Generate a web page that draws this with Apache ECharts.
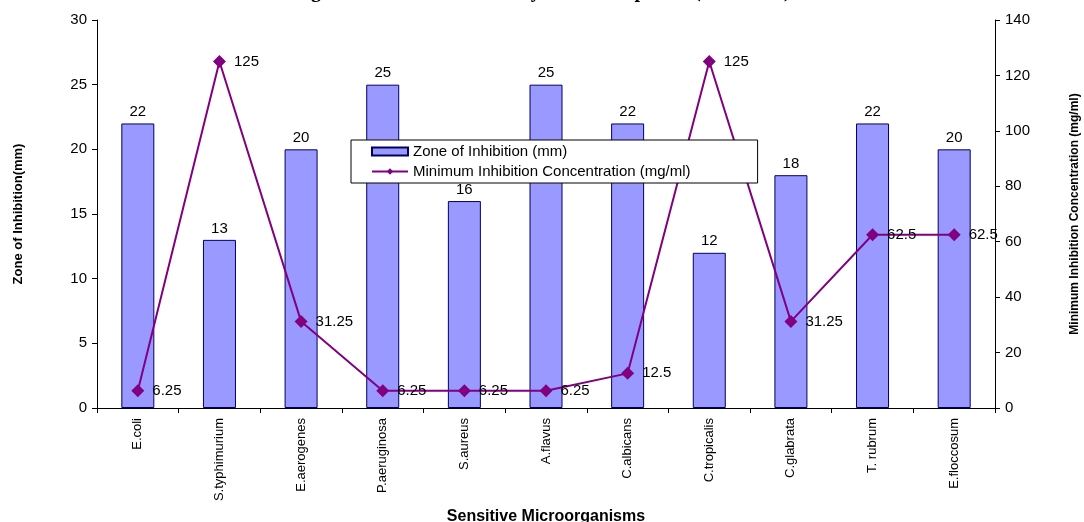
<!DOCTYPE html>
<html><head><meta charset="utf-8">
<script src="https://cdn.jsdelivr.net/npm/echarts@6/dist/echarts.min.js"></script>
<style>html,body{margin:0;padding:0;background:#fff}#c{width:1084px;height:522px}</style>
</head><body><div id="c"></div>
<script>
const categories = ['E.coli','S.typhimurium','E.aerogenes','P.aeruginosa','S.aureus','A.flavus','C.albicans','C.tropicalis','C.glabrata','T. rubrum','E.floccosum'];
const zoneValues = [22,13,20,25,16,25,22,12,18,22,20];
const micValues = [6.25,125,31.25,6.25,6.25,6.25,12.5,125,31.25,62.5,62.5];
const leftTicks = [0,30,5];
const rightTicks = [0,140,20];

const chart = echarts.init(document.getElementById('c'));
const font = 'Liberation Sans, Arial, sans-serif';
chart.setOption({
  animation:false,
  textStyle:{fontFamily:font},
  graphic:[{type:'text',left:'center',top:-18,style:{text:'Fig. 3: Antimicrobial activity of the compound (MIC/ZOI)',font:'bold 20px Liberation Serif, serif',fill:'#000'}}],
  grid:{left:97,right:89,top:20,bottom:114,outerBoundsMode:'none',containLabel:false},
  legend:{left:351,top:140,orient:'vertical',itemGap:5,itemWidth:36,itemHeight:8,
    borderColor:'#000',borderWidth:1,backgroundColor:'#fff',borderRadius:0,padding:[4,67,4,20],
    textStyle:{fontSize:15,color:'#000',fontFamily:font},
    data:[{name:'Zone of Inhibition (mm)',icon:'rect'},{name:'Minimum Inhibition Concentration (mg/ml)'}]},
  xAxis:{type:'category',data:categories,boundaryGap:true,
    name:'Sensitive Microorganisms',nameLocation:'middle',nameGap:98,
    nameTextStyle:{fontWeight:'bold',fontSize:16,color:'#000'},
    axisLine:{lineStyle:{color:'#000'}},axisTick:{show:true,length:5,lineStyle:{color:'#000'}},
    axisLabel:{rotate:90,fontSize:13,color:'#000',margin:10,interval:0}},
  yAxis:[{type:'value',min:leftTicks[0],max:leftTicks[1],interval:leftTicks[2],
    name:'Zone of Inhibition(mm)',nameLocation:'middle',nameGap:72,
    nameTextStyle:{fontWeight:'bold',fontSize:13,color:'#000'},
    axisLine:{show:true,lineStyle:{color:'#000'}},axisTick:{show:true,length:5,lineStyle:{color:'#000'}},
    axisLabel:{fontSize:15,color:'#000',margin:10},splitLine:{show:false}},
   {type:'value',min:rightTicks[0],max:rightTicks[1],interval:rightTicks[2],position:'right',
    name:'Minimum Inhibition Concentration (mg/ml)',nameLocation:'middle',nameGap:74,nameRotate:90,
    nameTextStyle:{fontWeight:'bold',fontSize:12,color:'#000'},
    axisLine:{show:true,lineStyle:{color:'#000'}},axisTick:{show:true,length:5,lineStyle:{color:'#000'}},
    axisLabel:{fontSize:15,color:'#000',margin:10},splitLine:{show:false}}],
  series:[{name:'Zone of Inhibition (mm)',type:'bar',data:zoneValues,barWidth:33,yAxisIndex:0,
      itemStyle:{color:'#9999ff',borderColor:'#000060',borderWidth:1},
      label:{show:true,position:'top',fontSize:15,color:'#000',distance:4}},
    {name:'Minimum Inhibition Concentration (mg/ml)',type:'line',data:micValues,yAxisIndex:1,
      symbol:'diamond',symbolSize:13,lineStyle:{color:'#800080',width:2},
      itemStyle:{color:'#800080'},
      label:{show:true,position:'right',fontSize:15,color:'#000',distance:8}}]
});
</script></body></html>
